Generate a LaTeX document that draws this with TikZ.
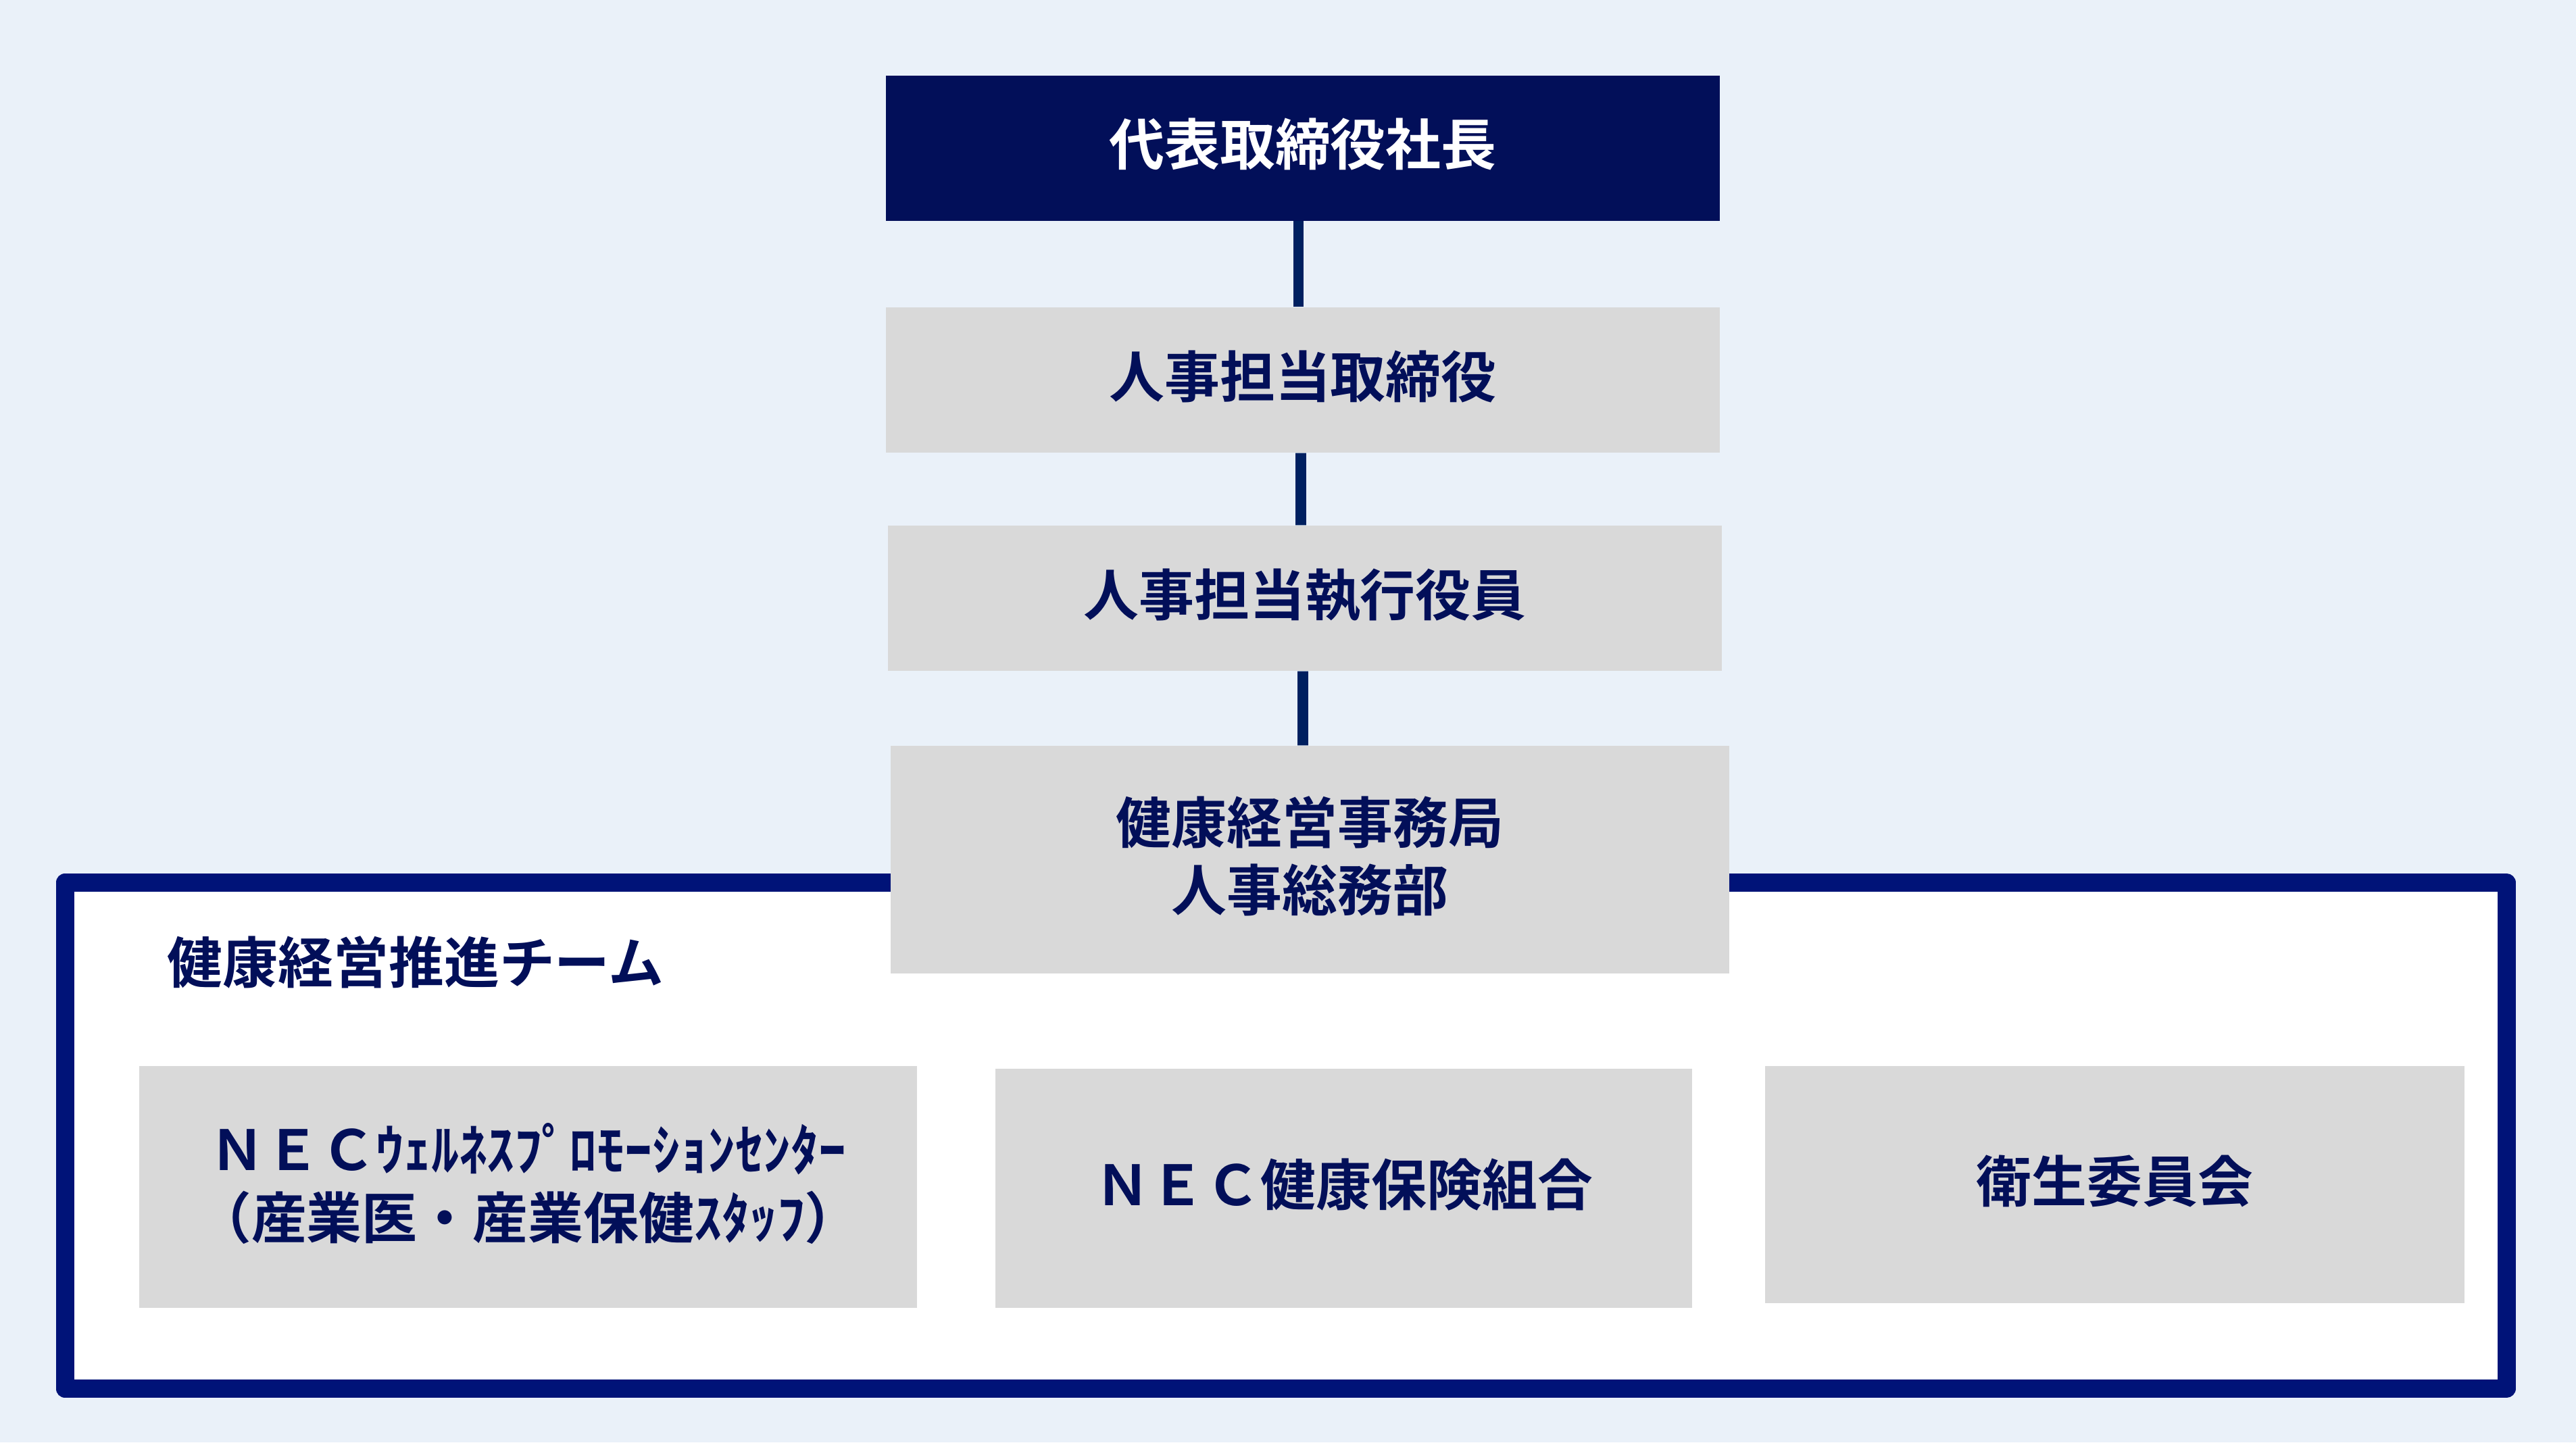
\documentclass[tikz,border=0pt]{standalone}
\usepackage{fontspec}
\setmainfont{Noto Sans CJK JP}[BoldFont={* Bold}]
\usepackage{tikz}

\definecolor{bgblue}{HTML}{EAF1F9}
\definecolor{navy}{HTML}{020F59}
\definecolor{framenavy}{HTML}{001378}
\definecolor{linknavy}{HTML}{002060}
\definecolor{boxgray}{HTML}{D9D9D9}

\begin{document}
\begin{tikzpicture}
	[x=1cm,y=-1cm,
	font=\fontsize{23.3}{28.5}\selectfont\bfseries,
	every node/.style={text=navy,align=center,inner sep=0pt,text depth=0.18cm},
	headbox/.style={fill=navy,text=white,minimum width=12.34cm,minimum height=2.15cm},
	unitbox/.style={fill=boxgray,minimum width=12.34cm,minimum height=2.15cm},
	memberbox/.style={fill=boxgray},
	conn/.style={draw=linknavy,line width=1.56mm}]

	\fill[bgblue] (0,0) rectangle (38.12,21.35);
	\draw[framenavy,fill=white,line width=2.7mm,line join=round] (0.96,13.065) rectangle (37.09,20.555);

	\node[headbox] (ceo) at (19.28,2.19) {代表取締役社長};
	\node[unitbox] (hrdir) at (19.28,5.625) {人事担当取締役};
	\node[unitbox] (hrexec) at (19.31,8.855) {人事担当執行役員};
	\node[unitbox,minimum width=12.41cm,minimum height=3.37cm] (office) at (19.385,12.725)
		{健康経営事務局\\人事総務部};

	\node[anchor=west] (team) at (2.47,14.30) {健康経営推進チーム};

	\node[memberbox,minimum width=11.51cm,minimum height=3.58cm] (wellness) at (7.815,17.57)
		{ＮＥＣｳｪﾙﾈｽﾌﾟﾛﾓｰｼｮﾝｾﾝﾀｰ\\（産業医・産業保健ｽﾀｯﾌ）};
	\node[memberbox,minimum width=10.31cm,minimum height=3.54cm] (kenpo) at (19.885,17.59)
		{ＮＥＣ健康保険組合};
	\node[memberbox,minimum width=10.35cm,minimum height=3.51cm] (eisei) at (31.295,17.535)
		{衛生委員会};

	% vertical links, slightly left of the box centres
	\draw[conn] ([xshift=-0.65mm]ceo.south) -- ([xshift=-0.65mm]hrdir.north);
	\draw[conn] ([xshift=-0.3mm]hrdir.south) -- ([xshift=-0.6mm]hrexec.north);
	\draw[conn] ([xshift=-0.3mm]hrexec.south) -- ([xshift=-1.05mm]office.north);
\end{tikzpicture}
\end{document}
